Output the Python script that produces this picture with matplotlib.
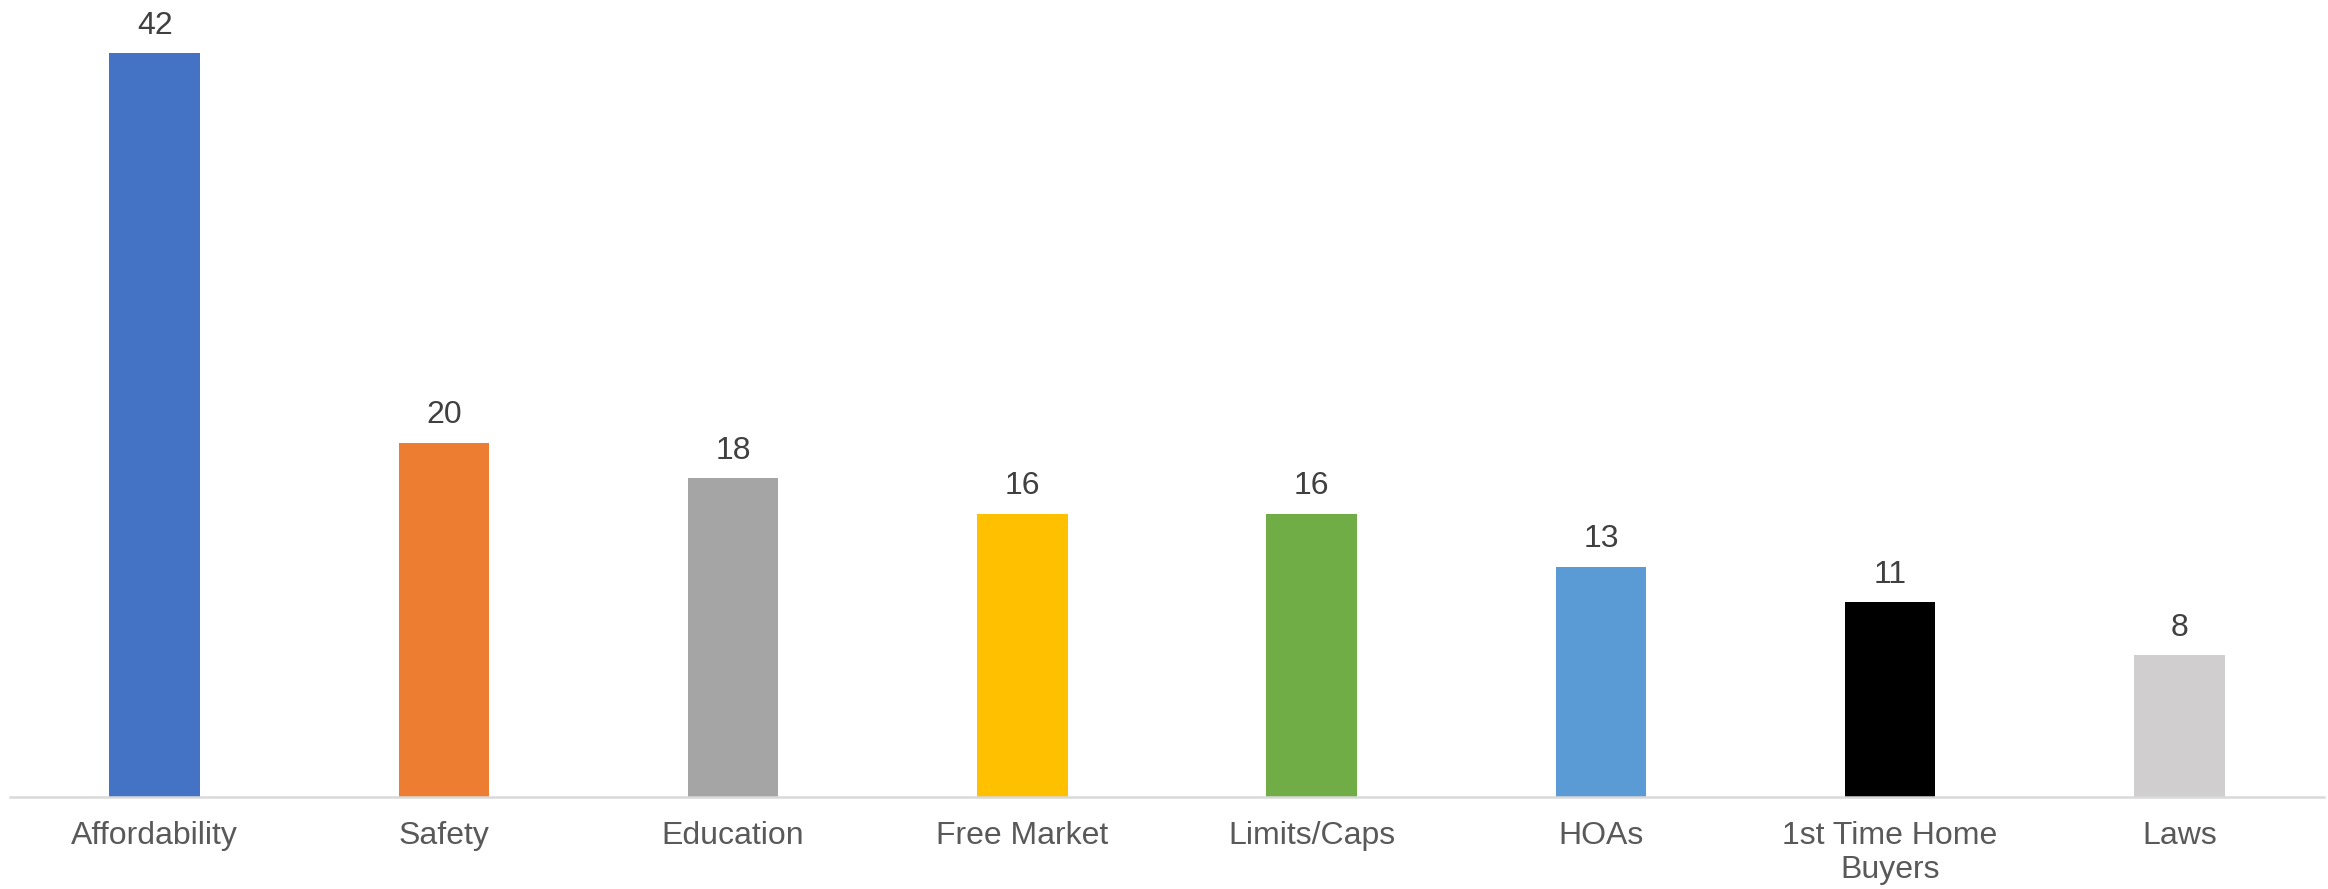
import matplotlib
matplotlib.use("Agg")
import matplotlib.pyplot as plt

categories = ["Affordability", "Safety", "Education", "Free Market",
              "Limits/Caps", "HOAs", "1st Time Home\nBuyers", "Laws"]
counts = [42, 20, 18, 16, 16, 13, 11, 8]
bar_colors = ["#4472C4", "#ED7D31", "#A5A5A5", "#FFC000",
              "#70AD47", "#5B9BD5", "#000000", "#D0CECE"]

plt.rcParams["font.family"] = ["Liberation Sans", "DejaVu Sans"]

W, H, DPI = 2328, 889, 100
fig = plt.figure(figsize=(W / DPI, H / DPI), dpi=DPI)
ax = fig.add_axes([10 / W, 1 - 797 / H, (2324 - 10) / W, 797 / H])

x = list(range(len(categories)))
bars = ax.bar(x, counts, width=0.313, color=bar_colors, zorder=2)

ax.set_xlim(-0.5, len(categories) - 0.5)
ax.set_ylim(0, 45)

for rect, v in zip(bars, counts):
    ax.annotate(f"{v}", (rect.get_x() + rect.get_width() / 2, v),
                xytext=(0, 9), textcoords="offset points",
                ha="center", va="bottom", fontsize=23, color="#404040")

ax.set_xticks(x)
ax.set_xticklabels(categories, fontsize=23, color="#595959", linespacing=1.2)
ax.tick_params(axis="x", length=0, pad=17)
ax.set_yticks([])

for side in ("left", "right", "top"):
    ax.spines[side].set_visible(False)
ax.spines["bottom"].set_color("#D9D9D9")
ax.spines["bottom"].set_linewidth(1.8)

fig.savefig("out.png", dpi=DPI, facecolor="white")
